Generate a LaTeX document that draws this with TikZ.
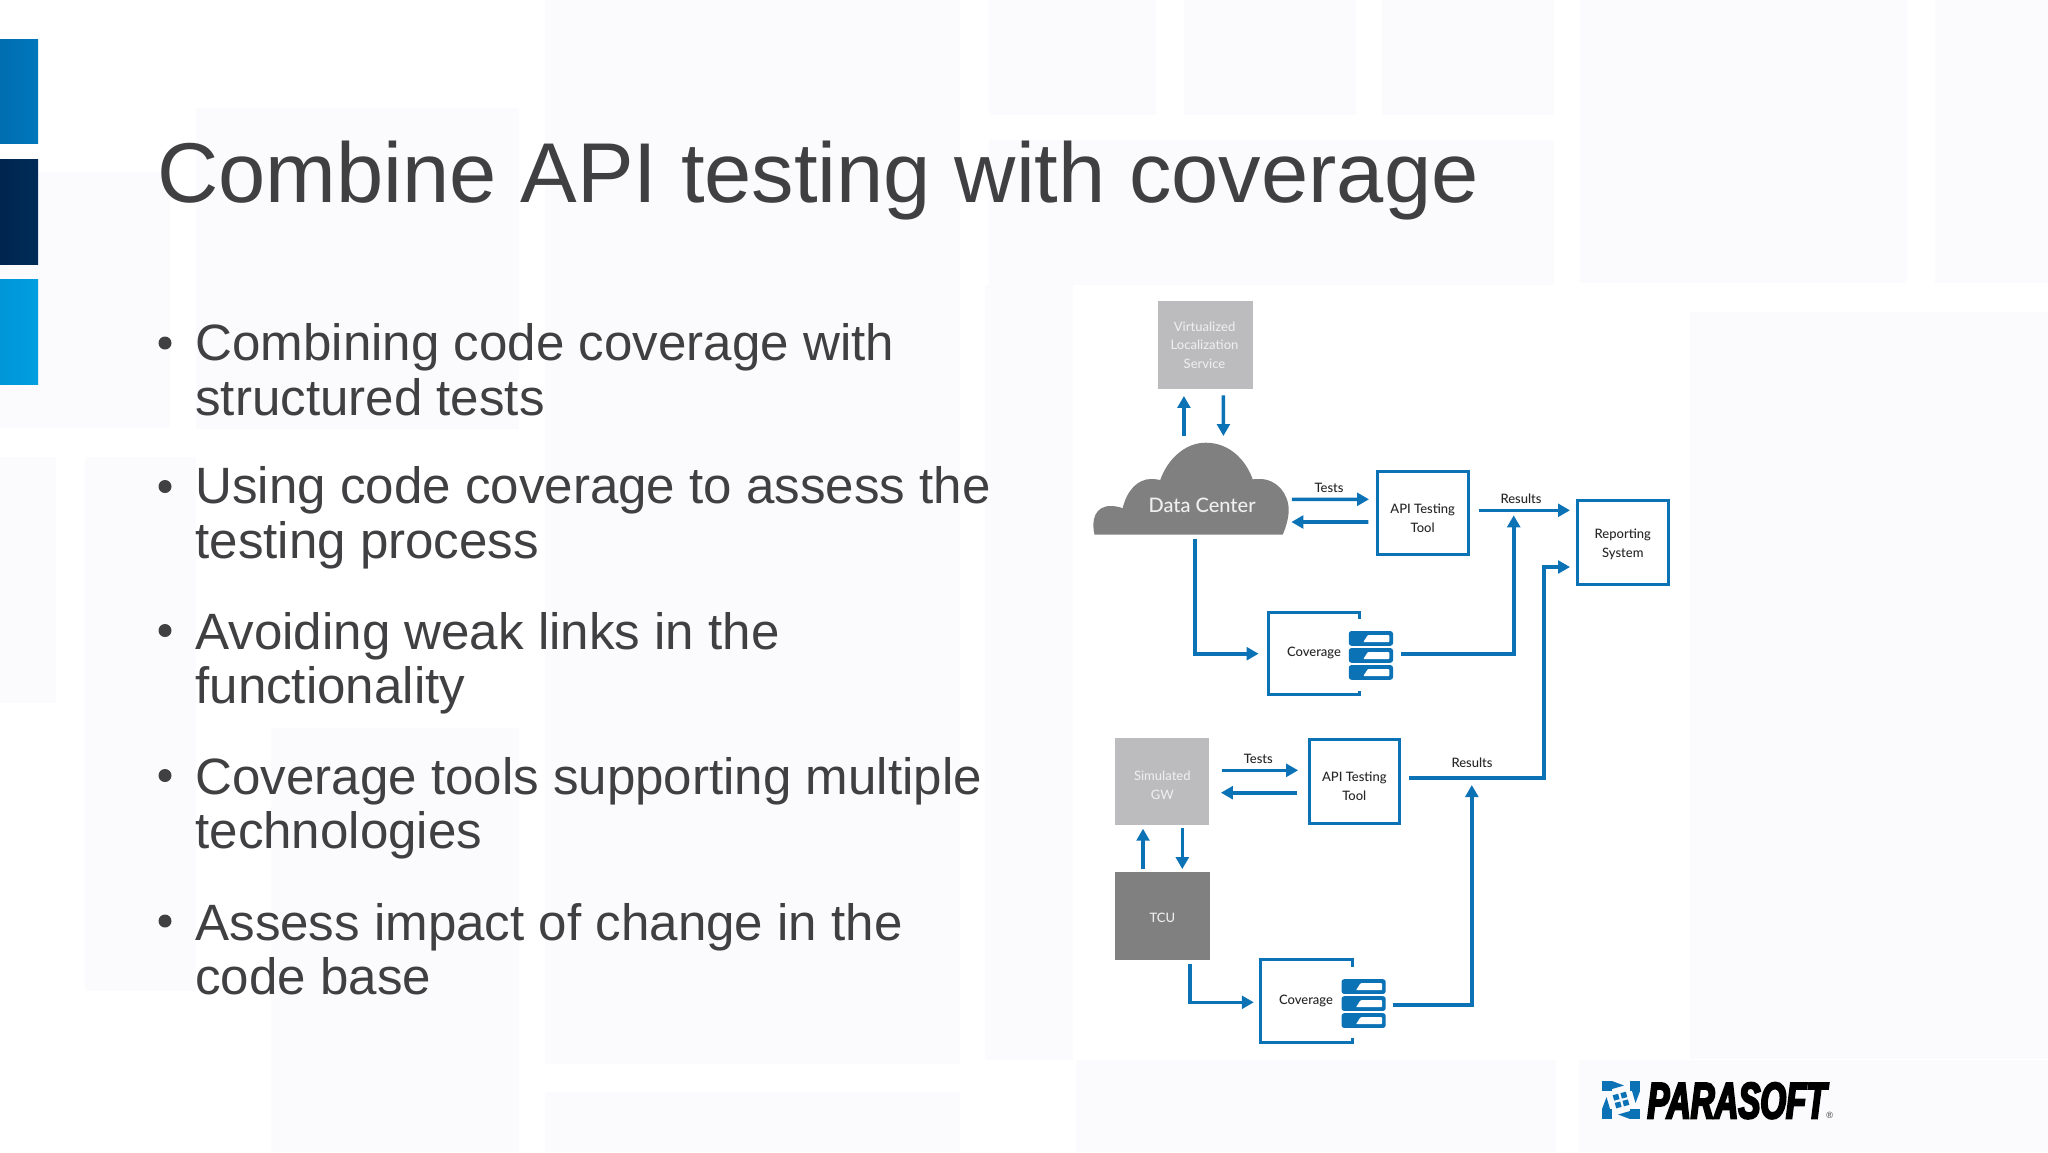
\documentclass[tikz,border=0pt]{standalone}
\usepackage{fontspec}
\setmainfont{Liberation Sans}
\newfontfamily\diafont{Lato Medium}
\newfontfamily\logofont{Liberation Sans Bold Italic}[FakeBold=4,FakeStretch=0.644]
\usetikzlibrary{arrows.meta}
\definecolor{pblue}{HTML}{0B72B5}
\definecolor{slidetext}{HTML}{404042}
\definecolor{tint}{HTML}{FBFBFD}
\definecolor{lightbox}{HTML}{BCBCBE}
\definecolor{darkbox}{HTML}{808080}
\tikzset{
  flow/.style={draw=pblue,line width=1.8pt,-{Triangle[length=6pt,width=6.4pt]}},
  title/.style={anchor=base west,inner sep=0pt,text=slidetext,font=\fontsize{42.45}{50}\selectfont},
  item/.style={anchor=base west,inner sep=0pt,align=left,text=slidetext,font=\fontsize{25.55}{27.3}\selectfont},
  dot/.style={fill=slidetext},
  tint box/.style={fill=tint,draw=none},
  dlabel/.style={inner sep=0pt,align=center,text=black!85,font=\diafont\fontsize{6.5}{9.3}\selectfont},
  glabel/.style={inner sep=0pt,align=center,text=white!93!black,font=\diafont\fontsize{6.5}{9.3}\selectfont},
  bluebox/.style={draw=pblue,line width=1.5pt,fill=white,minimum width=45.3pt,minimum height=41.8pt,inner sep=0pt},
  greybox/.style={fill=#1,minimum width=47.3pt,minimum height=43.8pt,inner sep=0pt,outer sep=0pt},
  bracket/.style={minimum width=45.9pt,minimum height=41.3pt,inner sep=0pt,outer sep=0pt},
  bracketline/.style={draw=pblue,line width=1.5pt},
  stack/.style={minimum width=22.1pt,minimum height=24.3pt,inner sep=0pt,outer sep=0pt},
}
\newcommand{\stackicon}[1]{%
  \begin{scope}[shift={(#1.north west)}]
    \foreach \dy in {0,17,34}{
      \fill[pblue,rounded corners=1.3pt] (0,\dy) rectangle (44.2,\dy+14.7);
      \fill[white,rounded corners=0.4pt] (19,\dy+4) -- (40.5,\dy+4) -- (40.5,\dy+11) -- (14.5,\dy+11) -- cycle;
    }
  \end{scope}}
\begin{document}
\begin{tikzpicture}[x=0.5pt,y=-0.5pt]
\useasboundingbox (0,0) rectangle (2048,1152);
\fill[white] (0,0) rectangle (2048,1152);
% faint background blocks
\foreach \a/\b/\c/\d in {
  196/108/519/429, 545/0/960/1064, 545/1092/960/1152, 989/0/1156/115, 1184/0/1356/115,
  1382/0/1554/115, 1580/0/1907/283, 1935/0/2048/283, 989/140/1554/285, 985/285/1073/1060,
  1690/312/2048/1059, 1579/1060/2048/1152, 1076/1060/1556/1152, 0/172/170/428,
  0/457/56/703, 85/457/196/991, 271/728/519/1152}{
  \fill[tint box] (\a,\b) rectangle (\c,\d);
}
\fill[white] (1073,287) rectangle (1690,1060);
% left bars
\shade[left color={rgb,255:red,0;green,110;blue,175},right color={rgb,255:red,0;green,119;blue,188}] (0,39.3) rectangle (38,143.7);
\shade[left color={rgb,255:red,0;green,37;blue,78},right color={rgb,255:red,0;green,44;blue,88}] (0,159.7) rectangle (38,264);
\shade[left color={rgb,255:red,0;green,150;blue,216},right color={rgb,255:red,0;green,158;blue,224}] (0,279.7) rectangle (38,384);
% title and bullets
\node[title] (title) at (157,202.3) {Combine API testing with coverage};
\foreach \y in {343,486.5,630.5,775.5,921}{\fill[dot] (165,\y) circle[radius=6.5];}
\node[item] (b1) at (195,415) {Combining code coverage with\\structured tests};
\node[item] (b2) at (195,558.5) {Using code coverage to assess the\\testing process};
\node[item] (b3) at (195,703.6) {Avoiding weak links in the\\functionality};
\node[item] (b4) at (195,848.6) {Coverage tools supporting multiple\\technologies};
\node[item] (b5) at (195,994.6) {Assess impact of change in the\\code base};
% upper diagram
\node[greybox=lightbox] (vls) at (1205.2,344.8) {};
\node[glabel] (vlst) at (1204.5,345) {Virtualized\\Localization\\Service};
\fill[darkbox] (1094.5,534.7) .. controls (1091,520) and (1095,506) .. (1110.7,506)
  .. controls (1115,506) and (1120,507) .. (1122.6,508.3)
  .. controls (1127,490) and (1138,479) .. (1151,479)
  .. controls (1155,479) and (1158,479.5) .. (1160.2,480)
  .. controls (1168,458) and (1186,442.7) .. (1205.6,442.7)
  .. controls (1228,442.7) and (1245,458) .. (1252.7,479.3)
  .. controls (1255,479) and (1257,479) .. (1259.8,479)
  .. controls (1277,479) and (1288.7,494) .. (1288.7,510)
  .. controls (1288.7,518) and (1286,527) .. (1282.7,534.7) -- cycle;
\node[minimum width=97.85pt,minimum height=46pt,inner sep=0pt,outer sep=0pt] (dc) at (1190.8,488.7) {};
\node[inner sep=0pt,text=white!94!black,font=\diafont\fontsize{10}{12}\selectfont] (dctext) at (1202,505.7) {Data Center};
\node[bluebox] (api1) at (1423.2,513) {};
\node[dlabel] (api1t) at (1422.7,518) {API Testing\\Tool};
\node[bluebox] (rep) at (1622.8,542.5) {};
\node[dlabel] (rept) at (1622.8,544.2) {Reporting\\System};
\node[bracket] (cov1) at (1313.9,653.5) {};
\draw[bracketline] ([shift={(0,7)}]cov1.north east) -- (cov1.north east) -- (cov1.north west) -- (cov1.south west) -- (cov1.south east) -- ([shift={(0,-4)}]cov1.south east);
\node[dlabel] (covtext1) at (1314,653) {Coverage};
\node[stack] (icon1) at (1370.9,655.35) {};
\stackicon{icon1}
\node[dlabel] (tests1) at (1329,488.3) {Tests};
\node[dlabel] (results1) at (1521,498.7) {Results};
% lower diagram
\node[greybox=lightbox] (sim) at (1161.9,781.5) {};
\node[glabel] (simt) at (1162.3,785) {Simulated\\GW};
\node[greybox=darkbox] (tcu) at (1162.2,915.9) {};
\node[glabel] (tcut) at (1162.3,918) {TCU};
\node[bluebox] (api2) at (1354.3,781.5) {};
\node[dlabel] (api2t) at (1354.3,786) {API Testing\\Tool};
\node[bracket] (cov2) at (1306.5,1001.1) {};
\draw[bracketline] ([shift={(0,7)}]cov2.north east) -- (cov2.north east) -- (cov2.north west) -- (cov2.south west) -- (cov2.south east) -- ([shift={(0,-4)}]cov2.south east);
\node[dlabel] (covtext2) at (1306,1001) {Coverage};
\node[stack] (icon2) at (1363.6,1003.5) {};
\stackicon{icon2}
\node[dlabel] (tests2) at (1258.3,759) {Tests};
\node[dlabel] (results2) at (1472,763) {Results};
% connectors
\draw[flow] ([shift={(-6.9,-6.7)}]dc.north) -- ([shift={(-21.3,7.35)}]vls.south);
\draw[flow] ([shift={(18.2,6.7)}]vls.south) -- ([shift={(32.6,-6.7)}]dc.north);
\draw[flow] ([shift={(3.3,10.6)}]dc.east) -- ([shift={(-7.4,-13.7)}]api1.west);
\draw[flow] ([shift={(-8,9)}]api1.west) -- ([shift={(2.7,33.3)}]dc.east);
\draw[flow] ([shift={(8.5,-2.7)}]api1.east) -- ([shift={(-6,-32.2)}]rep.west);
\draw[flow] ([shift={(8.4,-1.65)}]icon1.east) -| ([shift={(43.7,2.3)}]api1.east);
\draw[flow] ([shift={(4.2,4.6)}]dc.south) |- ([shift={(-9.4,0.2)}]cov1.west);
\coordinate (bus) at (1543.7,567);
\draw[flow] ([shift={(8.3,-3.8)}]api2.east) -| (bus) -- ([shift={(-6,24.5)}]rep.west);
\draw[flow] ([shift={(12.3,-11.2)}]sim.east) -- ([shift={(-9.4,-11.2)}]api2.west);
\draw[flow] ([shift={(-10.7,11.2)}]api2.west) -- ([shift={(11.7,11.2)}]sim.east);
\draw[flow] ([shift={(-19.2,-2.7)}]tcu.north) -- ([shift={(-18.9,3.4)}]sim.south);
\draw[flow] ([shift={(20.4,3)}]sim.south) -- ([shift={(20.1,-3)}]tcu.north);
\draw[flow] ([shift={(27.8,4.6)}]tcu.south) |- ([shift={(-6.8,1.2)}]cov2.west);
\draw[flow] ([shift={(7.6,1.2)}]icon2.east) -| ([shift={(70.7,3.5)}]api2.east);
% logo
\begin{scope}[shift={(1621,1100)}]
  \foreach \r in {0,90,180,270}{
    \begin{scope}[rotate=\r]
      \fill[pblue] (-19,-19) rectangle (-9,-9);
      \fill[pblue] (-9,-19) -- (3,-14.5) -- (-9,-11) -- cycle;
    \end{scope}
    \begin{scope}[rotate=\r+15]
      \fill[pblue] (1.2,1.2) rectangle (6.8,6.8);
    \end{scope}
  }
\end{scope}
\node[anchor=base west,inner sep=0pt,font=\logofont\fontsize{25.6}{30}\selectfont] (logo) at (1647,1118.3) {PARASOFT{\normalfont\fontsize{4.5}{5}\selectfont\textcolor{black!80}{®}}};
\end{tikzpicture}
\end{document}
